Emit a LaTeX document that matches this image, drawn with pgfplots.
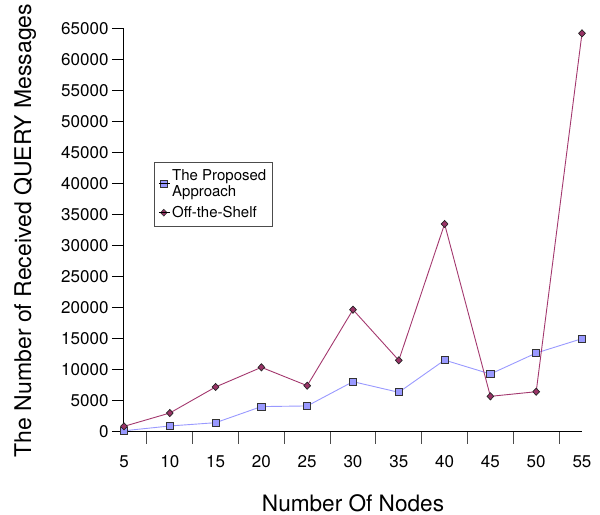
\documentclass[border=0pt]{standalone}
\usepackage{pgfplots}
\pgfplotsset{compat=1.18}
\usepackage{fontspec}
\setmainfont{TeX Gyre Heros}
\definecolor{propc}{HTML}{9999FF}
\definecolor{offc}{HTML}{993366}
\definecolor{offl}{HTML}{A3386E}
\begin{document}
\begin{tikzpicture}
\begin{axis}[
  scale only axis,
  width=458pt, height=403pt,
  xmin=5, xmax=55, ymin=0, ymax=65000,
  axis x line*=bottom, axis y line*=left,
  axis line style={-, line width=1pt},
  xtick={5,10,...,55},
  minor xtick={7.5,12.5,...,52.5},
  ytick={0,5000,...,65000},
  tick align=outside,
  major tick length=12pt, minor tick length=12pt,
  major x tick style={draw=none},
  minor x tick style={line width=1pt, draw=black!70},
  major y tick style={line width=1pt, draw=black},
  scaled y ticks=false,
  /pgf/number format/1000 sep={},
  /pgf/number format/assume math mode=true,
  ticklabel style={font=\fontsize{17}{20}\selectfont},
  xticklabel style={yshift=-8pt},
  yticklabel style={xshift=0pt},
  xlabel={Number Of Nodes},
  ylabel={The Number of Received QUERY Messages},
  every axis x label/.style={at={(axis description cs:0.5,0)}, anchor=center, yshift=-71pt, font=\fontsize{22.6}{26}\selectfont},
  every axis y label/.style={at={(axis description cs:0,0.5)}, anchor=center, xshift=-99pt, rotate=90, font=\fontsize{23}{26}\selectfont},
  legend style={at={(0.0655,0.67)}, anchor=north west, draw=black!70, line width=0.8pt,
    font=\fontsize{15}{16.5}\selectfont, cells={align=left, anchor=west},
    inner xsep=4pt, inner ysep=5pt, row sep=4pt},
  legend cell align=left,
  legend image code/.code={\draw[#1] plot coordinates {(5pt,0pt)}; \path (0pt,0pt) -- (11pt,0pt);},
]
\addlegendimage{only marks, mark=square*, mark size=3.2pt, mark options={fill=propc, draw=black!80, line width=0.8pt}}
\addlegendentry{The Proposed\\Approach}
\addlegendimage{only marks, mark=diamond*, mark size=3.4pt, mark options={fill=offc, draw=black!80, line width=0.6pt, xscale=1.25}}
\addlegendentry{Off-the-Shelf}
\addplot[forget plot, color=propc, line width=0.9pt, mark=square*, mark size=3.6pt, mark options={fill=propc, draw=black!80, line width=0.9pt}] coordinates {
(5,200) (10,970) (15,1500) (20,4100) (25,4200) (30,8120) (35,6400) (40,11600) (45,9350) (50,12740) (55,15050)};
\addplot[forget plot, color=offl, line width=0.9pt, mark=diamond*, mark size=3.6pt, mark options={fill=offc, draw=black!85, line width=0.7pt, xscale=1.25}] coordinates {
(5,910) (10,3060) (15,7260) (20,10430) (25,7470) (30,19730) (35,11560) (40,33550) (45,5750) (50,6500) (55,64300)};
\end{axis}
\path (current axis.south west) ++(-124pt,-82pt) rectangle ++(600pt,514pt);
\end{tikzpicture}
\end{document}
